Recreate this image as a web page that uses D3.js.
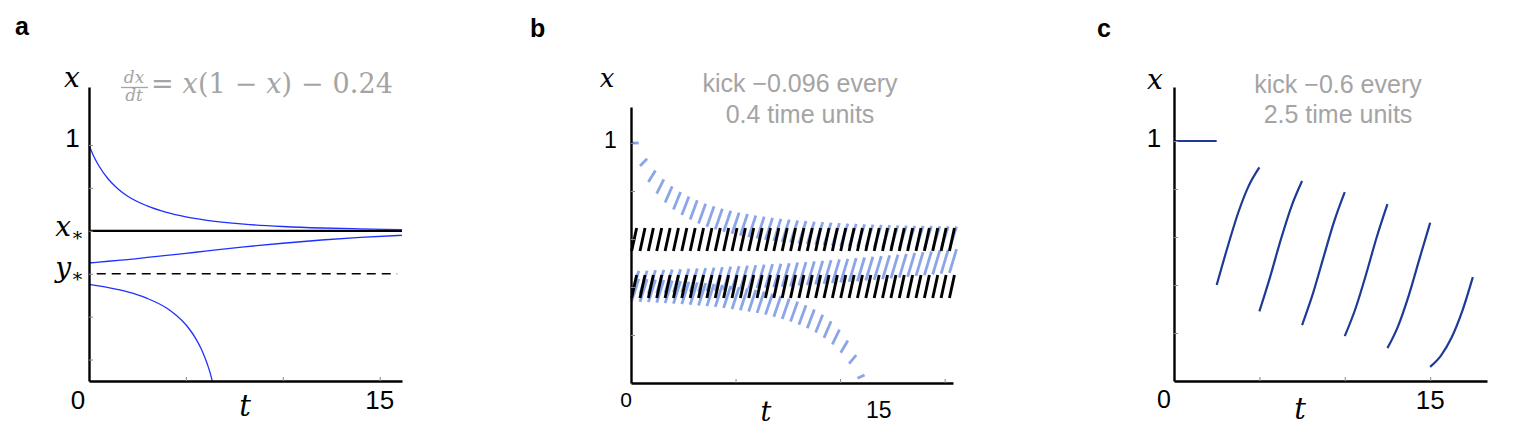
<!DOCTYPE html>
<html>
<head>
<meta charset="utf-8">
<script src="https://cdn.jsdelivr.net/npm/d3@7"></script>
<style>
  body { margin: 0; background: #fff; }
  text { font-family: "Liberation Sans", Arial, sans-serif; }
  .math { font-family: "DejaVu Serif", "Liberation Serif", serif; font-style: italic; }
</style>
</head>
<body>
<svg id="fig" width="1536" height="444"></svg>
<script>
'use strict';

// ---- panel a: dx/dt = x(1-x) - 0.24 ----
var xStar = 0.6, yStar = 0.4;
var tA      = [0, 0.25, 0.5, 1, 1.5, 2, 3, 4, 5, 6, 8, 10, 12, 14, 16.15];
var upperA  = [1, 0.946, 0.904, 0.840, 0.795, 0.761, 0.716, 0.686, 0.665, 0.650, 0.631, 0.620, 0.613, 0.609, 0.605];
var middleA = [0.45, 0.452, 0.454, 0.458, 0.462, 0.466, 0.476, 0.485, 0.495, 0.505, 0.525, 0.542, 0.557, 0.569, 0.579];
var tLowA   = [0, 1, 2, 3, 4, 4.5, 5, 5.25, 5.5, 5.8, 6.1, 6.25, 6.36];
var lowerA  = [0.35, 0.335, 0.315, 0.285, 0.240, 0.206, 0.162, 0.133, 0.099, 0.048, -0.020, -0.062, -0.100];

// ---- panel b: kick -0.096 every 0.4 time units ----
var kickB = 0.096, periodB = 0.4;
var topB = [1.000, 0.904, 0.838, 0.789, 0.752, 0.723, 0.700, 0.681, 0.665, 0.651, 0.640, 0.630, 0.622, 0.614,
            0.608, 0.602, 0.597, 0.592, 0.588, 0.585, 0.581, 0.579, 0.576, 0.574, 0.572, 0.570, 0.568, 0.567,
            0.565, 0.564, 0.563, 0.562, 0.561, 0.560, 0.559, 0.559, 0.558, 0.557, 0.557, 0.556];
var midB = [0.370, 0.371, 0.372, 0.374, 0.375, 0.377, 0.378, 0.380, 0.381, 0.383, 0.385, 0.387, 0.389, 0.391,
            0.393, 0.395, 0.397, 0.399, 0.401, 0.403, 0.406, 0.408, 0.411, 0.413, 0.416, 0.419, 0.421, 0.424,
            0.427, 0.430, 0.433, 0.436, 0.439, 0.442, 0.446, 0.449, 0.452, 0.456, 0.459, 0.462];
var lowB = [0.340, 0.338, 0.337, 0.335, 0.333, 0.331, 0.329, 0.326, 0.323, 0.320, 0.317, 0.313, 0.308, 0.303,
            0.298, 0.292, 0.285, 0.276, 0.267, 0.256, 0.243, 0.228, 0.210, 0.188, 0.161, 0.126, 0.081, 0.020, -0.063];
var orbitUpperB = [0.550, 0.646];
var orbitLowerB = [0.354, 0.450];
var nKicksB = 39;

// ---- panel c: kick -0.6 every 2.5 time units ----
var flatC = [[0, 1], [2.5, 1]];
var kickTimesC = [2.5, 5, 7.5, 10, 12.5, 15];
var tauC = [0, 0.625, 1.25, 1.875, 2.5];
var segC = [
  [0.400, 0.555, 0.699, 0.813, 0.890],
  [0.290, 0.433, 0.588, 0.727, 0.833],
  [0.233, 0.362, 0.514, 0.664, 0.787],
  [0.187, 0.301, 0.445, 0.600, 0.737],
  [0.137, 0.229, 0.357, 0.509, 0.659],
  [0.059, 0.105, 0.180, 0.290, 0.433]
];

var xTicks = [5, 10, 15];
var yTicks = [0, 0.2, 0.4, 0.6, 0.8, 1];

//---------------------------------------------------------------------------------------------------------------

var svg = d3.select('#fig');
var grey = '#a4a4a4';

function drawAxes(g, x, y, yt) {
  var ya = g.append('g').attr('transform', 'translate(' + x.range()[0] + ',0)')
    .call(d3.axisRight(y).tickValues(yt).tickSize(4).tickSizeOuter(0).tickFormat(''));
  var xa = g.append('g').attr('transform', 'translate(0,' + y.range()[0] + ')')
    .call(d3.axisTop(x).tickValues(xTicks).tickSize(4).tickSizeOuter(0).tickFormat(''));
  [ya, xa].forEach(function(a) {
    a.select('.domain').attr('stroke', '#000').attr('stroke-width', 2.4);
    a.selectAll('.tick line').attr('stroke', '#8a8a8a').attr('stroke-width', 1);
  });
}

function label(g, txt, x, y, size, anchor, cls) {
  return g.append('text').attr('x', x).attr('y', y).attr('font-size', size)
    .attr('text-anchor', anchor || 'middle').attr('class', cls || null).text(txt);
}

// ================= panel a =================
(function() {
  var g = svg.append('g');
  var x = d3.scaleLinear().domain([0, 16.15]).range([89, 402]);
  var y = d3.scaleLinear().domain([-0.1, 1.27]).range([381, 87]);

  var line = d3.line().x(d => x(d[0])).y(d => y(d[1])).curve(d3.curveMonotoneX);

  g.append('line').attr('x1', x(0)).attr('x2', x(16.15)).attr('y1', y(xStar)).attr('y2', y(xStar))
    .attr('stroke', '#000').attr('stroke-width', 2.2);
  g.append('line').attr('x1', x(0.4)).attr('x2', x(15.9)).attr('y1', y(yStar)).attr('y2', y(yStar))
    .attr('stroke', '#000').attr('stroke-width', 1.6).attr('stroke-dasharray', '9,6');

  [d3.zip(tA, upperA), d3.zip(tA, middleA), d3.zip(tLowA, lowerA)].forEach(function(pts) {
    g.append('path').attr('d', line(pts)).attr('fill', 'none')
      .attr('stroke', '#1f2fff').attr('stroke-width', 1.3);
  });

  drawAxes(g, x, y, yTicks);

  label(g, 'a', 15, 35, 25, 'start').attr('font-weight', 'bold');
  label(g, 'x', 72, 87, 28, 'middle', 'math');
  label(g, '1', 72.5, 146.5, 26);
  label(g, '0', 78, 409, 26);
  label(g, '15', x(15), 409, 26);
  label(g, 't', 245, 416, 29, 'middle', 'math');

  var xs = g.append('text').attr('x', 84).attr('y', y(xStar) + 5).attr('text-anchor', 'end')
    .attr('class', 'math').attr('font-size', 28);
  xs.append('tspan').text('x');
  xs.append('tspan').attr('dy', 5).attr('font-size', 19).attr('font-style', 'normal').text('\u2217');
  var ys = g.append('text').attr('x', 84).attr('y', y(yStar) + 3).attr('text-anchor', 'end')
    .attr('class', 'math').attr('font-size', 28);
  ys.append('tspan').text('y');
  ys.append('tspan').attr('dy', 5).attr('font-size', 19).attr('font-style', 'normal').text('\u2217');

  // equation
  label(g, 'dx', 134, 83, 17, 'middle', 'math').attr('fill', grey);
  label(g, 'dt', 134, 101, 17, 'middle', 'math').attr('fill', grey);
  g.append('line').attr('x1', 121).attr('x2', 148).attr('y1', 87.5).attr('y2', 87.5)
    .attr('stroke', grey).attr('stroke-width', 1.3);
  var eq = g.append('text').attr('x', 151).attr('y', 93).attr('font-size', 27).attr('fill', grey)
    .attr('textLength', 242).attr('lengthAdjust', 'spacing')
    .style('font-family', '"DejaVu Serif", serif');
  eq.append('tspan').text('= ');
  eq.append('tspan').attr('font-style', 'italic').text('x');
  eq.append('tspan').text('(1 \u2212 ');
  eq.append('tspan').attr('font-style', 'italic').text('x');
  eq.append('tspan').text(') \u2212 0.24');
})();

// ================= panel b =================
(function() {
  var g = svg.append('g');
  var x = d3.scaleLinear().domain([0, 15.4]).range([631, 953]);
  var y = d3.scaleLinear().domain([0, 1.15]).range([383, 107]);

  function trajDashes(starts) {
    return d3.range(starts.length - 1).map(function(k) {
      return { t: k * periodB, lo: starts[k], hi: starts[k + 1] + kickB };
    });
  }

  [topB, midB, lowB].forEach(function(s) {
    g.append('g').selectAll('line').data(trajDashes(s)).join('line')
      .attr('x1', d => x(d.t + 0.03)).attr('x2', d => x(d.t + 0.37))
      .attr('y1', d => y(d.lo)).attr('y2', d => y(d.hi))
      .attr('stroke', '#8aa6e8').attr('stroke-width', 2.8);
  });

  [orbitUpperB, orbitLowerB].forEach(function(o) {
    g.append('g').selectAll('line').data(d3.range(nKicksB)).join('line')
      .attr('x1', k => x(k * periodB + 0.03)).attr('x2', k => x(k * periodB + 0.27))
      .attr('y1', y(o[0])).attr('y2', y(o[1]))
      .attr('stroke', '#000').attr('stroke-width', 2.9);
  });

  drawAxes(g, x, y, yTicks.slice(1));

  label(g, 'b', 530, 37, 25, 'start').attr('font-weight', 'bold');
  label(g, 'x', 607, 87, 26, 'middle', 'math');
  label(g, '1', 610.5, 148, 23);
  label(g, '0', 626, 407, 21);
  label(g, '15', x(11.85), 418, 23);
  label(g, 't', 766, 421, 27, 'middle', 'math');
  label(g, 'kick \u22120.096 every', 800, 91.5, 25).attr('fill', grey);
  label(g, '0.4 time units', 800, 122.5, 25).attr('fill', grey);
})();

// ================= panel c =================
(function() {
  var g = svg.append('g');
  var x = d3.scaleLinear().domain([0, 18.33]).range([1174, 1487]);
  var y = d3.scaleLinear().domain([0, 1.225]).range([381, 87]);
  var line = d3.line().x(d => x(d[0])).y(d => y(d[1])).curve(d3.curveMonotoneX);
  var navy = '#1e3a96';

  g.append('path').attr('d', line(flatC)).attr('fill', 'none').attr('stroke', navy).attr('stroke-width', 2.2);
  segC.forEach(function(vals, i) {
    var pts = tauC.map(function(tau, j) { return [kickTimesC[i] + tau, vals[j]]; });
    g.append('path').attr('d', line(pts)).attr('fill', 'none')
      .attr('stroke', navy).attr('stroke-width', 2.2);
  });

  drawAxes(g, x, y, yTicks.slice(1));

  label(g, 'c', 1097, 37, 25, 'start').attr('font-weight', 'bold');
  label(g, 'x', 1155, 89, 28, 'middle', 'math');
  label(g, '1', 1154, 147, 26);
  label(g, '0', 1164, 408, 25);
  label(g, '15', x(15), 409, 26);
  label(g, 't', 1300, 419, 29, 'middle', 'math');
  label(g, 'kick \u22120.6 every', 1338, 93, 25).attr('fill', grey);
  label(g, '2.5 time units', 1338, 123, 25).attr('fill', grey);
})();
</script>
</body>
</html>
